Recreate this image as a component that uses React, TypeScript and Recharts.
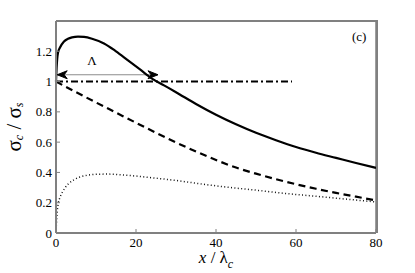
import { Line, LineChart, ReferenceDot, XAxis, YAxis } from "recharts"

const X_TICKS = [0, 20, 40, 60, 80]
const Y_TICKS = [0, 0.2, 0.4, 0.6, 0.8, 1, 1.2]
const X_MAX = 80
const Y_MAX = 1.4

const solidX = [0, 0.15, 0.3, 0.5, 1, 2, 3, 4, 5.5, 7, 9, 12, 15, 18, 21, 24, 27, 30, 35, 40, 45, 50, 55, 60, 65, 70, 75, 80]
const solidY = [1.0, 1.09, 1.15, 1.19, 1.225, 1.265, 1.283, 1.292, 1.297, 1.295, 1.283, 1.252, 1.2, 1.14, 1.08, 1.02, 0.975, 0.93, 0.852, 0.781, 0.718, 0.662, 0.613, 0.568, 0.53, 0.496, 0.462, 0.43]

const dashedX = [0, 5, 10, 15, 20, 25, 30, 35, 40, 45, 50, 55, 60, 65, 70, 75, 80]
const dashedY = [1.0, 0.93, 0.862, 0.795, 0.728, 0.662, 0.598, 0.538, 0.482, 0.432, 0.392, 0.355, 0.322, 0.292, 0.265, 0.24, 0.215]

const dottedX = [0, 0.1, 0.3, 0.6, 1, 1.6, 2.3, 3.2, 4.5, 6, 8, 10.5, 13, 16, 20, 25, 30, 36, 42, 50, 57, 64, 72, 80]
const dottedY = [0, 0.06, 0.14, 0.2, 0.235, 0.27, 0.3, 0.327, 0.352, 0.37, 0.382, 0.388, 0.389, 0.385, 0.376, 0.362, 0.347, 0.325, 0.305, 0.283, 0.262, 0.245, 0.225, 0.205]

const dashDotX = [0, 59]
const dashDotY = [1, 1]

// double arrow marking Λ
const arrowX = [0.3, 25.5]
const arrowY = [1.045, 1.045]

// top and right edges of the box
const frameX = [0, X_MAX, X_MAX]
const frameY = [Y_MAX, Y_MAX, 0]

const pts = (xs: number[], ys: number[]) => xs.map((x, i) => ({ x, y: ys[i] }))

const SERIF = "'Liberation Serif', 'Times New Roman', serif"
const AXIS_GRAY = "#808080"

const tickStyle = { fill: "#000", fontSize: 13, fontFamily: SERIF }

const fmt = (v: number) => String(Number(v.toFixed(1)))

function ArrowHead(props: any) {
  const { cx, cy, index } = props
  if (cx == null || cy == null) return <g key={`ah-${index}`} />
  const s = index === 0 ? 1 : -1
  const d = `M ${cx} ${cy} L ${cx + s * 10} ${cy - 4} L ${cx + s * 7} ${cy} L ${cx + s * 10} ${cy + 4} Z`
  return <path key={`ah-${index}`} d={d} fill="#000" stroke="#000" strokeWidth={1} />
}

// inward tick marks on the top and right edges, drawn at the frame's corner
function FrameTicks(props: any) {
  const { cx, cy, index, xAxis, yAxis } = props
  if (index !== 1 || cx == null || !xAxis || !yAxis) return <g key={`ft-${index}`} />
  const sx = xAxis.scale
  const sy = yAxis.scale
  return (
    <g key={`ft-${index}`} stroke={AXIS_GRAY} strokeWidth={1}>
      {X_TICKS.slice(1, -1).map((t) => (
        <line key={`t${t}`} x1={sx(t)} x2={sx(t)} y1={cy} y2={cy + 4} />
      ))}
      {Y_TICKS.slice(1).map((t) => (
        <line key={`r${t}`} x1={cx} x2={cx - 4} y1={sy(t)} y2={sy(t)} />
      ))}
    </g>
  )
}

function textLabel(content: string, size: number) {
  return (props: any) => {
    const vb = props.viewBox || {}
    const cx = vb.cx ?? vb.x
    const cy = vb.cy ?? vb.y
    return (
      <text x={cx} y={cy} textAnchor="middle" dominantBaseline="central" fontFamily={SERIF} fontSize={size} fill="#000">
        {content}
      </text>
    )
  }
}

function YLabel(props: any) {
  const vb = props.viewBox || { x: 0, y: 0, width: 0, height: 0 }
  const x = vb.x + 14
  const y = vb.y + vb.height / 2
  return (
    <text x={x} y={y} transform={`rotate(-90, ${x}, ${y})`} textAnchor="middle" dominantBaseline="central" fontFamily={SERIF} fontSize={21} fill="#000">
      σ<tspan fontSize={12} fontStyle="italic" dy={5}>c</tspan>
      <tspan dy={-5}> / σ</tspan>
      <tspan fontSize={12} fontStyle="italic" dy={5}>s</tspan>
    </text>
  )
}

function XLabel(props: any) {
  const vb = props.viewBox || { x: 0, y: 0, width: 0, height: 0 }
  const x = vb.x + vb.width / 2
  return (
    <text x={x} y={263} textAnchor="middle" fontFamily={SERIF} fontSize={17} fill="#000">
      <tspan fontStyle="italic">x</tspan> / λ
      <tspan fontSize={12} fontStyle="italic" dy={5}>c</tspan>
    </text>
  )
}

export default function App() {
  return (
    <div style={{ position: "absolute", left: 0, top: 0, width: 415, height: 273, background: "#fff" }}>
      <LineChart width={415} height={273} margin={{ top: 21, right: 39, bottom: 0, left: 0 }}>
        <XAxis
          dataKey="x"
          type="number"
          domain={[0, X_MAX]}
          ticks={X_TICKS}
          height={40}
          tick={tickStyle}
          tickSize={-4}
          tickMargin={9}
          tickLine={{ stroke: AXIS_GRAY }}
          axisLine={{ stroke: AXIS_GRAY, strokeWidth: 2 }}
          label={<XLabel />}
        />
        <YAxis
          type="number"
          domain={[0, Y_MAX]}
          ticks={Y_TICKS}
          width={56}
          tick={tickStyle}
          tickFormatter={fmt}
          tickSize={-4}
          tickMargin={8}
          tickLine={{ stroke: AXIS_GRAY }}
          axisLine={{ stroke: AXIS_GRAY, strokeWidth: 2 }}
          label={<YLabel />}
        />
        <Line data={pts(frameX, frameY)} dataKey="y" type="linear" stroke={AXIS_GRAY} strokeWidth={1.5} dot={FrameTicks} isAnimationActive={false} />
        <Line data={pts(dottedX, dottedY)} dataKey="y" type="monotone" stroke="#111" strokeWidth={1.5} strokeDasharray="1 2.4" dot={false} isAnimationActive={false} />
        <Line data={pts(dashedX, dashedY)} dataKey="y" type="monotone" stroke="#000" strokeWidth={2.2} strokeDasharray="7 4.5" dot={false} isAnimationActive={false} />
        <Line data={pts(dashDotX, dashDotY)} dataKey="y" type="linear" stroke="#000" strokeWidth={2} strokeDasharray="7 3 2 3" dot={false} isAnimationActive={false} />
        <Line data={pts(arrowX, arrowY)} dataKey="y" type="linear" stroke="#8c8c8c" strokeWidth={1.2} dot={ArrowHead} isAnimationActive={false} />
        <Line data={pts(solidX, solidY)} dataKey="y" type="monotone" stroke="#000" strokeWidth={2.2} dot={false} isAnimationActive={false} />
        <ReferenceDot x={9} y={1.14} r={0} fill="none" stroke="none" label={textLabel("Λ", 13)} />
        <ReferenceDot x={75.8} y={1.3} r={0} fill="none" stroke="none" label={textLabel("(c)", 13)} />
      </LineChart>
      {/* box edges over the plot area, in case the series frame is clipped */}
      <div
        style={{
          position: "absolute",
          left: 56,
          top: 20,
          width: 322,
          height: 213,
          boxSizing: "border-box",
          borderTop: `2px solid ${AXIS_GRAY}`,
          borderRight: `2px solid ${AXIS_GRAY}`,
          pointerEvents: "none",
        }}
      />
    </div>
  )
}
